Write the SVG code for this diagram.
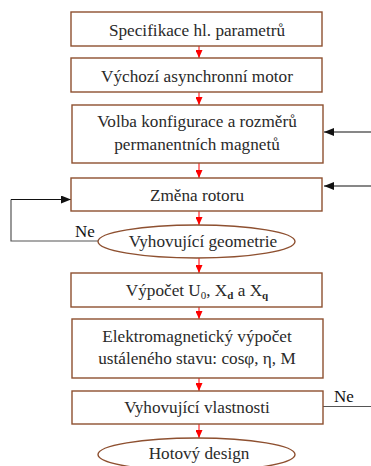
<svg xmlns="http://www.w3.org/2000/svg" width="371" height="466" viewBox="0 0 371 466">
<style>
.box{fill:#fff;stroke:#8E5030;stroke-width:1.4}
.t{font-family:"Liberation Serif","Times New Roman",serif;font-size:17.2px;fill:#2a2a2a;text-anchor:middle}
.ne{font-family:"Liberation Serif","Times New Roman",serif;font-size:17px;fill:#111}
.red{stroke:#f00;stroke-width:1;fill:none}
.blk{stroke:#111;stroke-width:1.2;fill:none}
.gry{stroke:#555;stroke-width:1.2;fill:none}
</style>
<defs>
<marker id="ra" markerWidth="8" markerHeight="7" refX="8" refY="3.5" orient="auto" markerUnits="userSpaceOnUse">
<path d="M0,0 L8,3.5 L0,7 Z" fill="#f00"/>
</marker>
<marker id="ba" markerWidth="10" markerHeight="8" refX="10" refY="4" orient="auto" markerUnits="userSpaceOnUse">
<path d="M0,0 L10,4 L0,8 Z" fill="#111"/>
</marker>
</defs>
<rect width="371" height="466" fill="#fff"/>
<g id="connectors">
<line class="red" x1="199" y1="46" x2="199" y2="58" marker-end="url(#ra)"/>
<line class="red" x1="199" y1="92" x2="199" y2="105" marker-end="url(#ra)"/>
<line class="red" x1="199" y1="163" x2="199" y2="178" marker-end="url(#ra)"/>
<line class="red" x1="199" y1="211" x2="199" y2="225" marker-end="url(#ra)"/>
<line class="red" x1="199" y1="258" x2="199" y2="273" marker-end="url(#ra)"/>
<line class="red" x1="199" y1="307" x2="199" y2="319" marker-end="url(#ra)"/>
<line class="red" x1="199" y1="378" x2="199" y2="391" marker-end="url(#ra)"/>
<line class="red" x1="199" y1="424" x2="199" y2="438" marker-end="url(#ra)"/>
<polyline class="gry" points="98,241 11,241 11,199.5"/>
<line class="blk" x1="11" y1="199.5" x2="71" y2="199.5" marker-end="url(#ba)"/>
<line class="blk" x1="371" y1="132" x2="324" y2="132" marker-end="url(#ba)"/>
<line class="blk" x1="371" y1="186" x2="324" y2="186" marker-end="url(#ba)"/>
<line class="gry" x1="323" y1="406.5" x2="371" y2="406.5"/>
<text class="ne" x="75" y="237">Ne</text>
<text class="ne" x="334" y="402">Ne</text>
</g>
<g id="n1"><rect class="box" x="71" y="12" width="251" height="34"/><text class="t" x="197" y="35.5">Specifikace hl. parametrů</text></g>
<g id="n2"><rect class="box" x="71" y="58" width="251" height="34"/><text class="t" x="197" y="82">Výchozí asynchronní motor</text></g>
<g id="n3"><rect class="box" x="72" y="105" width="251" height="58"/><text class="t" x="197" y="127">Volba konfigurace a rozměrů</text><text class="t" x="197" y="150">permanentních magnetů</text></g>
<g id="n4"><rect class="box" x="71" y="178" width="251" height="33"/><text class="t" x="197" y="200.5">Změna rotoru</text></g>
<g id="n5"><ellipse class="box" cx="196.5" cy="241.5" rx="98.5" ry="16.5"/><text class="t" x="203" y="247">Vyhovující geometrie</text></g>
<g id="n6"><rect class="box" x="71" y="273" width="251" height="34"/><text class="t" x="197" y="296">Výpočet U<tspan font-size="11" dy="3">0</tspan><tspan dy="-3">, X</tspan><tspan font-size="11" font-weight="bold" dy="3">d</tspan><tspan dy="-3"> a X</tspan><tspan font-size="11" font-weight="bold" dy="3">q</tspan></text></g>
<g id="n7"><rect class="box" x="72" y="319" width="251" height="59"/><text class="t" x="197" y="341.5">Elektromagnetický výpočet</text><text class="t" x="197" y="363.5">ustáleného stavu: cosφ, η, M</text></g>
<g id="n8"><rect class="box" x="72" y="391" width="251" height="33"/><text class="t" x="197" y="413">Vyhovující vlastnosti</text></g>
<g id="n9"><ellipse class="box" cx="196.5" cy="454.5" rx="98.5" ry="16.5"/><text class="t" x="199" y="458.5">Hotový design</text></g>
</svg>
